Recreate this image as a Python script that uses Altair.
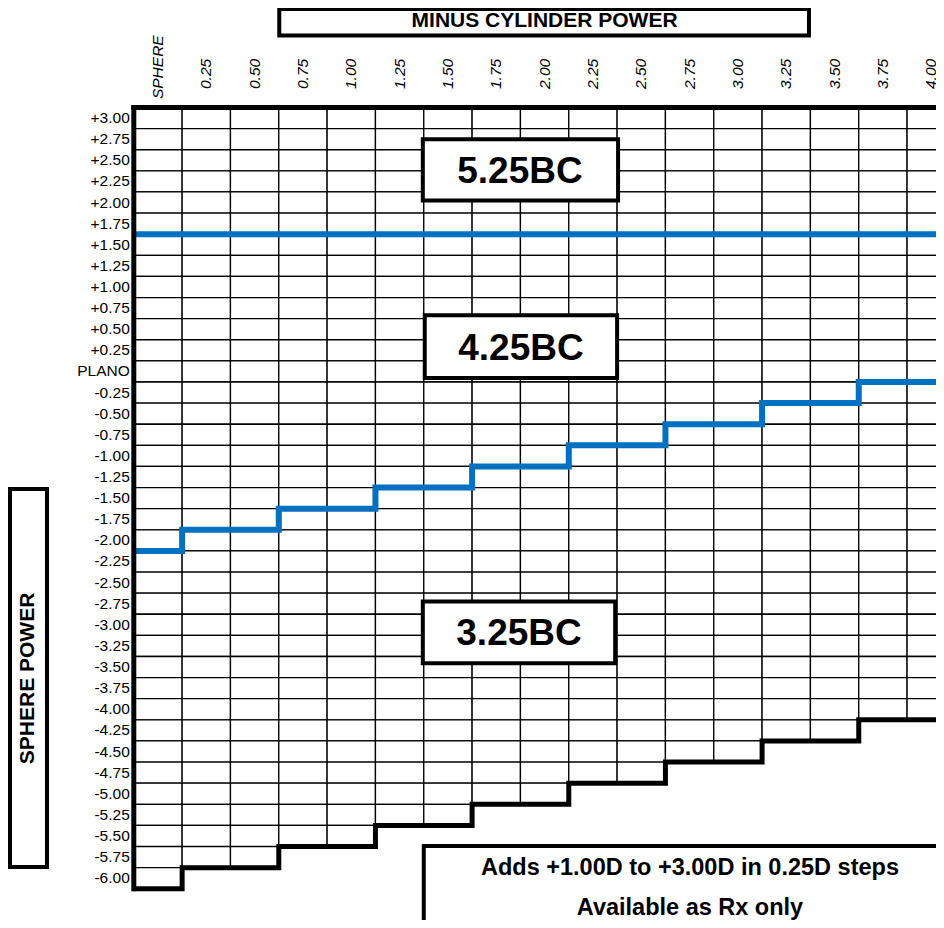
import altair as alt
import pandas as pd

# ---------------- data ----------------
columns = ["SPHERE", "0.25", "0.50", "0.75", "1.00", "1.25", "1.50", "1.75", "2.00",
           "2.25", "2.50", "2.75", "3.00", "3.25", "3.50", "3.75", "4.00"]
rows = ["+3.00", "+2.75", "+2.50", "+2.25", "+2.00", "+1.75", "+1.50", "+1.25", "+1.00",
        "+0.75", "+0.50", "+0.25", "PLANO", "-0.25", "-0.50", "-0.75", "-1.00", "-1.25",
        "-1.50", "-1.75", "-2.00", "-2.25", "-2.50", "-2.75", "-3.00", "-3.25", "-3.50",
        "-3.75", "-4.00", "-4.25", "-4.50", "-4.75", "-5.00", "-5.25", "-5.50", "-5.75", "-6.00"]
# number of available sphere rows in each cylinder column (black stepped limit)
range_limit = [37, 36, 36, 35, 35, 34, 34, 33, 33, 32, 32, 31, 31, 30, 30, 29, 29]
# row boundary where 5.25BC changes to 4.25BC (upper blue line)
bc525_limit = [6, 6, 6, 6, 6, 6, 6, 6, 6, 6, 6, 6, 6, 6, 6, 6, 6]
# row boundary where 4.25BC changes to 3.25BC (lower blue stepped line)
bc425_limit = [21, 20, 20, 19, 19, 18, 18, 17, 17, 16, 16, 15, 15, 14, 14, 13, 13]
base_curves = ["5.25BC", "4.25BC", "3.25BC"]
title_text = "MINUS CYLINDER POWER"
side_text = "SPHERE POWER"
notes = ["Adds +1.00D to +3.00D in 0.25D steps", "Available as Rx only"]

# ---------------- layout ----------------
FONT = "Liberation Sans"
BLUE = "#0070C0"
W, H = 928, 912
X0, DX = 125.8, 48.33     # chart px of the first column edge, px per column
Y0, DY = 99.5, 21.115     # chart px of the first row edge, px per row
xs = alt.Scale(domain=[-X0 / DX, (W - X0) / DX], nice=False, zero=False)
ys = alt.Scale(domain=[-Y0 / DY, (H - Y0) / DY], nice=False, zero=False, reverse=True)


def X(f):
    return alt.X(f, type="quantitative", scale=xs, axis=None)


def Y(f):
    return alt.Y(f, type="quantitative", scale=ys, axis=None)


ncol = len(columns)

cells = pd.DataFrame([{"c": c, "c2": c + 1, "r": r, "r2": r + 1}
                      for c in range(ncol) for r in range(range_limit[c])])


def step_path(limit):
    pts = []
    for c, b in enumerate(limit):
        pts.append({"x": c, "y": b, "o": 2 * c})
        pts.append({"x": c + 1, "y": b, "o": 2 * c + 1})
    return pd.DataFrame(pts)


grid = alt.Chart(cells).mark_rect(fill="white", stroke="black", strokeWidth=1.3).encode(
    x=X("c"), x2="c2:Q", y=Y("r"), y2="r2:Q")

blue_upper = alt.Chart(step_path(bc525_limit)).mark_line(color=BLUE, strokeWidth=6).encode(
    x=X("x"), y=Y("y"), order="o:Q")
blue_lower = alt.Chart(step_path(bc425_limit)).mark_line(color=BLUE, strokeWidth=6).encode(
    x=X("x"), y=Y("y"), order="o:Q")
black_step = alt.Chart(step_path(range_limit)).mark_line(color="black", strokeWidth=5).encode(
    x=X("x"), y=Y("y"), order="o:Q")

frame = pd.DataFrame([{"x": 0, "x2": ncol, "y": 0, "y2": 0},
                      {"x": 0, "x2": 0, "y": 0, "y2": range_limit[0]}])
borders = alt.Chart(frame).mark_rule(color="black", strokeWidth=5, strokeCap="square").encode(
    x=X("x"), x2="x2:Q", y=Y("y"), y2="y2:Q")

row_df = pd.DataFrame({"label": rows, "r": [i + 0.5 for i in range(len(rows))]})
row_labels = alt.Chart(row_df).mark_text(
    align="right", baseline="middle", font=FONT, fontSize=15.5, dx=-4, color="black").encode(
    x=alt.XDatum(0, scale=xs, axis=None), y=Y("r"), text="label:N")

col_df = pd.DataFrame({"label": columns, "c": [i + 0.5 for i in range(ncol)]})
col_sphere = alt.Chart(col_df.iloc[:1]).mark_text(
    angle=270, align="left", baseline="middle", font=FONT, fontSize=15.5, fontStyle="italic",
    color="black").encode(x=X("c"), y=alt.YDatum(-0.40, scale=ys, axis=None), text="label:N")
col_nums = alt.Chart(col_df.iloc[1:]).mark_text(
    angle=270, align="left", baseline="middle", font=FONT, fontSize=15.5, fontStyle="italic",
    color="black").encode(x=X("c"), y=alt.YDatum(-0.876, scale=ys, axis=None), text="label:N")

bc_df = pd.DataFrame({"label": base_curves,
                      "x": [5.98, 6.02, 5.98], "x2": [10.02, 10.0, 9.96],
                      "y": [1.50, 9.84, 23.39], "y2": [4.41, 12.81, 26.32],
                      "tx": [7.99, 8.01, 7.97], "ty": [3.59, 11.96, 25.46]})
bc_boxes = alt.Chart(bc_df).mark_rect(fill="white", stroke="black", strokeWidth=4).encode(
    x=X("x"), x2="x2:Q", y=Y("y"), y2="y2:Q")
bc_text = alt.Chart(bc_df).mark_text(
    font=FONT, fontSize=37, fontWeight="bold", baseline="alphabetic", align="center",
    color="black").encode(x=X("tx"), y=Y("ty"), text="label:N")

title_df = pd.DataFrame({"label": [title_text], "x": [3.01], "x2": [13.97],
                         "y": [-4.665], "y2": [-3.41], "tx": [8.5], "ty": [-3.827]})
title_box = alt.Chart(title_df).mark_rect(fill="white", stroke="black", strokeWidth=4).encode(
    x=X("x"), x2="x2:Q", y=Y("y"), y2="y2:Q")
title_lbl = alt.Chart(title_df).mark_text(
    font=FONT, fontSize=21, fontWeight="bold", baseline="alphabetic", align="center",
    color="black").encode(x=X("tx"), y=Y("ty"), text="label:N")

side_df = pd.DataFrame({"label": [side_text], "x": [-2.5616], "x2": [-1.796],
                        "y": [18.07], "y2": [35.97], "tx": [-2.179], "ty": [27.04]})
side_box = alt.Chart(side_df).mark_rect(fill="white", stroke="black", strokeWidth=4).encode(
    x=X("x"), x2="x2:Q", y=Y("y"), y2="y2:Q")
side_lbl = alt.Chart(side_df).mark_text(
    font=FONT, fontSize=21, fontWeight="bold", baseline="middle", align="center", angle=270,
    color="black").encode(x=X("tx"), y=Y("ty"), text="label:N")

note_box_df = pd.DataFrame({"x": [6.0], "x2": [22.0], "y": [34.97], "y2": [46.0]})
note_box = alt.Chart(note_box_df).mark_rect(fill="white", stroke="black", strokeWidth=4).encode(
    x=X("x"), x2="x2:Q", y=Y("y"), y2="y2:Q")
note_df = pd.DataFrame({"label": notes, "tx": [11.508, 11.508], "ty": [36.37, 38.22]})
note_lbl = alt.Chart(note_df).mark_text(
    font=FONT, fontSize=23.5, fontWeight="bold", baseline="alphabetic", align="center",
    color="black").encode(x=X("tx"), y=Y("ty"), text="label:N")

chart = alt.layer(
    grid, blue_upper, blue_lower, black_step, borders, row_labels, col_sphere, col_nums,
    bc_boxes, bc_text, title_box, title_lbl, side_box, side_lbl, note_box, note_lbl
).properties(
    width=W, height=H, padding=0, autosize=alt.AutoSizeParams(type="none"),
    background="white"
).configure_view(stroke=None)

chart.save("out.html", embed_options={"renderer": "svg", "actions": False})
